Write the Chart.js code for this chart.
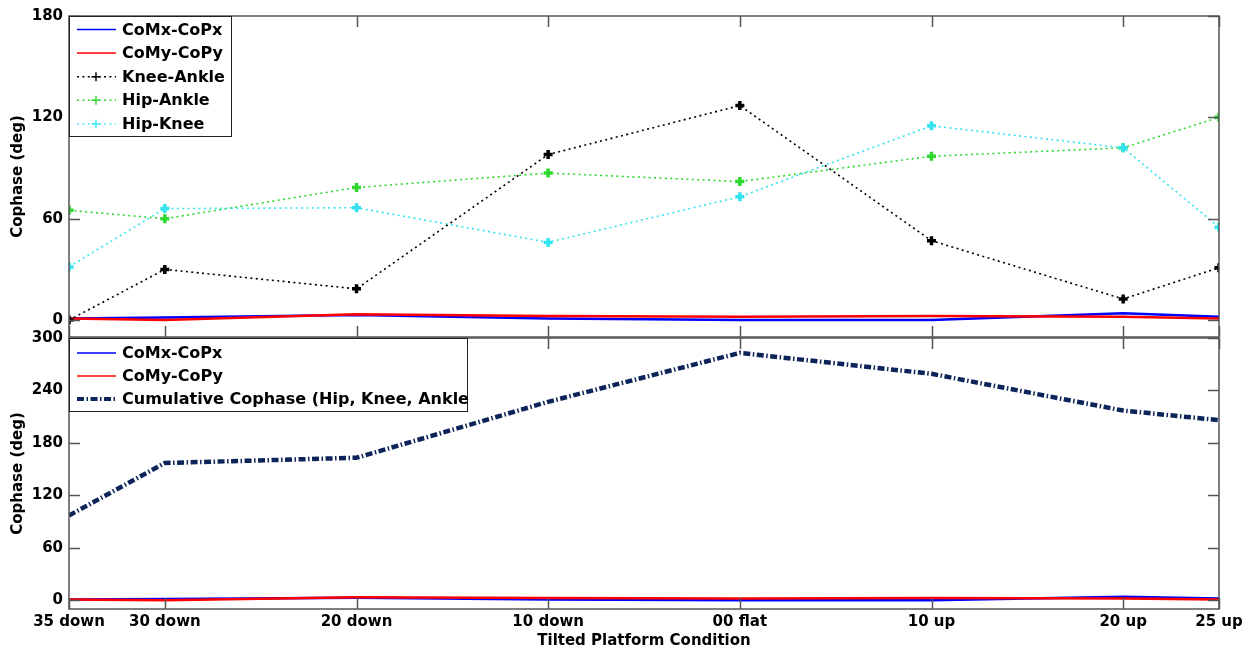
<!DOCTYPE html>
<html>
<head>
<meta charset="utf-8">
<script src="https://cdn.jsdelivr.net/npm/chart.js@4.4.1/dist/chart.umd.min.js"></script>
<style>
  html, body { margin: 0; padding: 0; background: #fff; }
  #wrap { position: relative; width: 1254px; height: 654px; }
  #wrap canvas { position: absolute; left: 0; top: 0; }
</style>
</head>
<body>
<div id="wrap">
  <canvas id="top-panel" width="1254" height="654"></canvas>
  <canvas id="bottom-panel" width="1254" height="654"></canvas>
</div>
<script>
// platform tilt (deg), negative = down
const tilts = [-35, -30, -20, -10, 0, 10, 20, 25];
const tiltLabels = ['35 down', '30 down', '20 down', '10 down', '00 flat', '10 up', '20 up', '25 up'];

const comxCopx = [1, 1.5, 3, 1, 0, 0, 4, 2];
const comyCopy = [1, 0, 3.5, 2.5, 2, 2.5, 2, 1];
const kneeAnkle = [0, 30, 18.5, 98, 127, 47, 12.5, 31];
const hipAnkle = [65, 60, 78.5, 87, 82, 97, 102, 120];
const hipKnee = [31.5, 66, 66.5, 46, 73, 115, 102, 55];
const cumulative = [97, 157, 163, 227, 283, 259, 217, 206];

const topTicks = [0, 60, 120, 180];
const bottomTicks = [0, 60, 120, 180, 240, 300];

const FONT = 'DejaVu Sans';
const pts = (ys) => ys.map((y, i) => ({ x: tilts[i], y }));

function lineSet(label, values, color, extra) {
	return Object.assign({
		label,
		data: pts(values),
		borderColor: color,
		backgroundColor: color,
		borderWidth: 2.5,
		pointRadius: 0,
		tension: 0,
		fill: false,
	}, extra);
}

function dotted(label, values, color, order) {
	return lineSet(label, values, color, {
		borderWidth: 1.6,
		borderDash: [2, 3.4],
		pointStyle: 'cross',
		pointRadius: 4.5,
		pointBorderWidth: 3.5,
		pointBorderColor: color,
		legendWidth: 1.4,
		order,
	});
}

// box, inward tick marks and an in-axes legend, MATLAB style
const framePlugin = {
	id: 'frame',
	afterDatasetsDraw(chart, args, opts) {
		const { ctx, chartArea: a } = chart;
		const x = chart.scales.x;
		const y = chart.scales.y;
		const len = 11;
		ctx.save();
		ctx.strokeStyle = '#555';
		ctx.lineWidth = 1.5;
		ctx.beginPath();
		x.ticks.forEach((t) => {
			const px = Math.round(x.getPixelForValue(t.value)) + 0.5;
			ctx.moveTo(px, a.bottom); ctx.lineTo(px, a.bottom - len);
			ctx.moveTo(px, a.top); ctx.lineTo(px, a.top + len);
		});
		y.ticks.forEach((t) => {
			const py = Math.round(y.getPixelForValue(t.value)) + 0.5;
			ctx.moveTo(a.left, py); ctx.lineTo(a.left + len, py);
			ctx.moveTo(a.right, py); ctx.lineTo(a.right - len, py);
		});
		ctx.stroke();
		ctx.strokeRect(a.left, a.top, a.right - a.left, a.bottom - a.top);
		ctx.restore();
	},
	afterDraw(chart, args, opts) {
		const box = opts.box;
		if (!box) return;
		const { ctx, chartArea: a } = chart;
		const x0 = a.left, y0 = a.top;
		ctx.save();
		ctx.fillStyle = '#fff';
		ctx.fillRect(x0, y0, box.w, box.h);
		ctx.strokeStyle = '#222';
		ctx.lineWidth = 1;
		ctx.strokeRect(x0 + 0.5, y0 + 0.5, box.w, box.h);
		ctx.font = 'bold 16px "' + FONT + '"';
		ctx.textBaseline = 'middle';
		chart.data.datasets.forEach((ds, i) => {
			const ry = y0 + box.first + i * box.step;
			ctx.strokeStyle = ds.borderColor;
			ctx.lineWidth = ds.legendWidth || 1.5;
			ctx.setLineDash(ds.legendDash || ds.borderDash || []);
			ctx.beginPath();
			ctx.moveTo(x0 + 8, ry);
			ctx.lineTo(x0 + 47, ry);
			ctx.stroke();
			ctx.setLineDash([]);
			if (ds.pointRadius > 0) {
				Chart.helpers.drawPoint(ctx, {
					pointStyle: ds.pointStyle,
					radius: ds.pointRadius,
					borderWidth: ds.pointBorderWidth,
					rotation: 0,
				}, x0 + 27, ry);
			}
			ctx.fillStyle = '#000';
			ctx.fillText(ds.label, x0 + 53, ry + 1);
		});
		ctx.restore();
	},
};

function yScale(min, max, ticks, width) {
	return {
		type: 'linear',
		min,
		max,
		grid: { display: false, drawTicks: false },
		border: { display: false },
		afterBuildTicks: (s) => { s.ticks = ticks.map((v) => ({ value: v })); },
		afterFit: (s) => { s.width = width; },
		ticks: {
			color: '#000',
			padding: 6,
			font: { family: FONT, size: 15, weight: 'bold' },
		},
		title: {
			display: true,
			text: 'Cophase (deg)',
			color: '#000',
			padding: { top: 9, bottom: 0 },
			font: { family: FONT, size: 15, weight: 'bold' },
		},
	};
}

function xScale(showLabels) {
	return {
		type: 'linear',
		min: -35,
		max: 25,
		display: showLabels,
		grid: { display: false, drawTicks: false },
		border: { display: false },
		afterBuildTicks: (s) => { s.ticks = tilts.map((v) => ({ value: v })); },
		afterFit: (s) => { s.height = showLabels ? 45 : 0; },
		ticks: {
			autoSkip: false,
			maxRotation: 0,
			color: '#000',
			padding: 4,
			font: { family: FONT, size: 15, weight: 'bold' },
			callback: (v) => tiltLabels[tilts.indexOf(v)],
		},
		title: {
			display: true,
			text: 'Tilted Platform Condition',
			color: '#000',
			padding: { top: 0, bottom: 4 },
			font: { family: FONT, size: 15, weight: 'bold' },
		},
	};
}

const common = {
	responsive: false,
	animation: false,
	devicePixelRatio: 1,
	plugins: { legend: { display: false }, tooltip: { enabled: false } },
	elements: { line: { borderCapStyle: 'butt' } },
};

new Chart(document.getElementById('top-panel'), {
	type: 'line',
	data: {
		datasets: [
			lineSet('CoMx-CoPx', comxCopx, '#0000ff', { order: 10 }),
			lineSet('CoMy-CoPy', comyCopy, '#ff0000', { order: 9 }),
			dotted('Knee-Ankle', kneeAnkle, '#000000', 6),
			dotted('Hip-Ankle', hipAnkle, '#2fd82f', 8),
			dotted('Hip-Knee', hipKnee, '#33e3ef', 7),
		],
	},
	options: Object.assign({}, common, {
		layout: { padding: { top: 16, right: 35, bottom: 317, left: 0 } },
		scales: { x: xScale(false), y: yScale(-10, 180, topTicks, 69) },
		plugins: Object.assign({}, common.plugins, {
			frame: { box: { w: 162, h: 120, first: 13.5, step: 23.6 } },
		}),
	}),
	plugins: [framePlugin],
});

new Chart(document.getElementById('bottom-panel'), {
	type: 'line',
	data: {
		datasets: [
			lineSet('CoMx-CoPx', comxCopx, '#0000ff', { order: 10 }),
			lineSet('CoMy-CoPy', comyCopy, '#ff0000', { order: 9 }),
			lineSet('Cumulative Cophase (Hip, Knee, Ankle', cumulative, '#0c2459', {
				borderWidth: 4.5,
				borderDash: [7, 2.5, 1.5, 2.5],
				legendWidth: 4,
				order: 8,
			}),
		],
	},
	options: Object.assign({}, common, {
		layout: { padding: { top: 338, right: 35, bottom: 0, left: 0 } },
		scales: { x: xScale(true), y: yScale(-10, 300, bottomTicks, 69) },
		plugins: Object.assign({}, common.plugins, {
			frame: { box: { w: 398, h: 73, first: 15, step: 23 } },
		}),
	}),
	plugins: [framePlugin],
});
</script>
</body>
</html>
